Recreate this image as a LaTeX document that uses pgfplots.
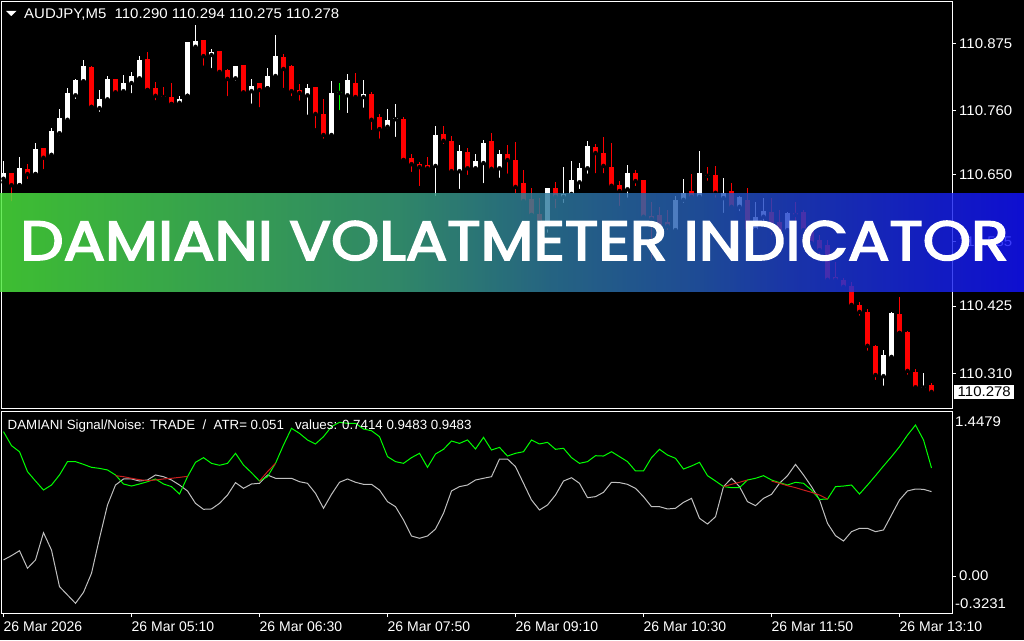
\documentclass[border=0pt]{standalone}
\usepackage{fontspec}
\setmainfont{Liberation Sans}
\newfontfamily\bannerfont{Poppins}[FakeBold=3]
\newfontfamily\numfont{Liberation Sans}[FakeStretch=1.07]
\usepackage{pgfplots}
\usepackage{pgfplotstable}
\pgfplotsset{compat=1.18}
\definecolor{mtred}{RGB}{255,0,0}
\definecolor{mtgreen}{RGB}{0,255,0}
\definecolor{mtsilver}{RGB}{192,192,192}
\definecolor{sigred}{RGB}{200,30,30}
\newcommand\tickfont{\fontsize{14}{16}\selectfont}
\newcommand\numtickfont{\numfont\fontsize{14}{16}\selectfont}
\pgfdeclarehorizontalshading{banner}{100bp}{
 rgb(0bp)=(0.298,0.910,0.239);
 rgb(25bp)=(0.298,0.910,0.239);
 rgb(44.5bp)=(0.23,0.645,0.50);
 rgb(51.9bp)=(0.18,0.478,0.622);
 rgb(59.2bp)=(0.144,0.358,0.716);
 rgb(64.1bp)=(0.119,0.240,0.813);
 rgb(75bp)=(0.071,0.071,1);
 rgb(100bp)=(0.071,0.071,1)}

\pgfplotstableread{
x o h l c
0 110.643 110.673 110.637 110.653
2 110.632 110.680 110.632 110.661
4 110.651 110.704 110.651 110.694
6 110.684 110.730 110.680 110.725
7 110.721 110.762 110.714 110.747
8 110.744 110.798 110.738 110.790
9 110.786 110.814 110.776 110.812
10 110.810 110.846 110.809 110.836
12 110.764 110.795 110.754 110.779
13 110.779 110.819 110.773 110.814
15 110.793 110.821 110.788 110.807
16 110.807 110.826 110.786 110.819
17 110.815 110.853 110.812 110.846
22 110.773 110.785 110.769 110.779
23 110.785 110.877 110.785 110.877
24 110.869 110.906 110.862 110.879
26 110.855 110.865 110.829 110.860
29 110.815 110.836 110.807 110.836
31 110.793 110.814 110.768 110.802
33 110.798 110.833 110.798 110.819
34 110.819 110.889 110.812 110.853
38 110.786 110.805 110.749 110.798
41 110.718 110.810 110.716 110.790
43 110.786 110.822 110.752 110.812
45 110.783 110.812 110.761 110.788
48 110.732 110.762 110.725 110.744
49 110.745 110.771 110.711 110.747
54 110.665 110.733 110.610 110.718
57 110.656 110.701 110.622 110.690
59 110.661 110.685 110.660 110.673
60 110.670 110.709 110.632 110.704
62 110.661 110.692 110.641 110.685
68 110.560 110.627 110.547 110.627
70 110.612 110.663 110.598 110.617
71 110.617 110.673 110.610 110.641
72 110.637 110.670 110.622 110.661
73 110.661 110.708 110.648 110.699
78 110.625 110.667 110.607 110.653
84 110.555 110.613 110.552 110.607
85 110.607 110.643 110.598 110.619
87 110.612 110.690 110.608 110.653
90 110.610 110.644 110.581 110.619
92 110.595 110.613 110.584 110.612
94 110.555 110.603 110.555 110.578
95 110.578 110.610 110.564 110.588
98 110.555 110.586 110.552 110.584
110 110.305 110.350 110.285 110.341
111 110.338 110.415 110.336 110.413
115 110.285 110.310 110.285 110.286
}\bull

\pgfplotstableread{
x o h l c
1 110.653 110.653 110.601 110.632
3 110.660 110.668 110.639 110.651
5 110.696 110.696 110.656 110.679
11 110.834 110.836 110.766 110.766
14 110.814 110.814 110.785 110.791
18 110.848 110.860 110.795 110.795
19 110.798 110.809 110.774 110.785
20 110.785 110.800 110.779 110.783
21 110.783 110.807 110.771 110.771
25 110.881 110.881 110.833 110.853
27 110.862 110.862 110.819 110.826
28 110.829 110.831 110.781 110.814
30 110.838 110.838 110.790 110.791
32 110.807 110.807 110.762 110.795
35 110.851 110.857 110.795 110.831
36 110.836 110.838 110.781 110.793
37 110.795 110.805 110.773 110.790
39 110.800 110.800 110.726 110.754
40 110.754 110.779 110.708 110.718
44 110.807 110.824 110.776 110.783
46 110.788 110.791 110.723 110.744
47 110.749 110.754 110.708 110.728
50 110.745 110.749 110.675 110.675
51 110.679 110.685 110.651 110.668
52 110.668 110.672 110.627 110.663
53 110.667 110.680 110.660 110.661
55 110.720 110.733 110.699 110.708
56 110.708 110.716 110.651 110.656
58 110.689 110.696 110.646 110.661
61 110.708 110.721 110.653 110.660
63 110.685 110.701 110.648 110.675
64 110.675 110.706 110.615 110.629
65 110.636 110.658 110.601 110.605
66 110.608 110.627 110.581 110.581
67 110.583 110.610 110.543 110.569
69 110.627 110.637 110.589 110.612
74 110.697 110.702 110.649 110.687
75 110.687 110.714 110.649 110.665
76 110.663 110.704 110.624 110.631
77 110.632 110.639 110.593 110.622
79 110.653 110.658 110.627 110.639
80 110.641 110.641 110.572 110.578
81 110.579 110.603 110.500 110.574
82 110.581 110.595 110.538 110.545
83 110.569 110.589 110.552 110.562
86 110.622 110.651 110.607 110.612
88 110.649 110.663 110.636 110.648
89 110.649 110.665 110.607 110.619
91 110.622 110.636 110.593 110.595
93 110.607 110.627 110.552 110.555
96 110.586 110.610 110.543 110.555
97 110.569 110.589 110.530 110.547
99 110.584 110.603 110.564 110.581
100 110.586 110.589 110.547 110.555
101 110.555 110.560 110.530 110.533
102 110.538 110.547 110.507 110.521
103 110.530 110.538 110.466 110.470
104 110.475 110.500 110.466 110.470
105 110.470 110.473 110.456 110.458
106 110.459 110.466 110.423 110.427
107 110.427 110.432 110.405 110.415
108 110.415 110.420 110.345 110.357
109 110.357 110.358 110.295 110.307
112 110.411 110.441 110.379 110.379
113 110.381 110.382 110.304 110.314
114 110.312 110.317 110.283 110.286
116 110.290 110.294 110.275 110.278
}\bear

\pgfplotstableread{
x o h l c
42 110.790 110.807 110.757 110.790
}\doji

\pgfplotstableread{
x g w
0 1.267 0.142
1 1.144 0.180
2 1.091 0.223
3 0.916 0.069
4 0.834 0.142
5 0.755 0.381
6 0.799 0.229
7 0.887 -0.092
8 1.004 -0.165
9 1.004 -0.238
10 0.980 -0.142
11 0.954 0.025
12 0.945 0.332
13 0.931 0.624
14 0.887 0.799
15 0.808 0.852
16 0.790 0.852
17 0.808 0.834
18 0.828 0.843
19 0.852 0.887
20 0.808 0.872
21 0.785 0.843
22 0.720 0.799
23 0.872 0.747
24 0.998 0.638
25 1.039 0.586
26 0.989 0.589
27 0.972 0.638
28 0.989 0.711
29 1.077 0.820
30 0.974 0.770
31 0.907 0.808
32 0.834 0.814
33 0.872 0.887
34 0.989 0.858
35 1.150 0.858
36 1.296 0.858
37 1.252 0.828
38 1.194 0.814
39 1.159 0.726
40 1.223 0.595
41 1.311 0.717
42 1.349 0.823
43 1.340 0.852
44 1.340 0.823
45 1.290 0.805
46 1.275 0.805
47 1.223 0.755
48 1.048 0.653
49 1.004 0.609
50 0.989 0.492
51 1.039 0.352
52 1.077 0.332
53 0.954 0.352
54 1.071 0.413
55 1.112 0.551
56 1.185 0.747
57 1.164 0.785
58 1.194 0.799
59 1.115 0.843
60 1.217 0.858
61 1.106 0.872
62 1.129 1.027
63 1.053 1.027
64 1.077 0.960
65 1.091 0.814
66 1.194 0.668
67 1.159 0.580
68 1.173 0.624
69 1.112 0.711
70 1.121 0.834
71 1.039 0.863
72 0.989 0.814
73 1.004 0.688
74 1.056 0.697
75 1.053 0.735
76 1.091 0.823
77 1.048 0.820
78 1.004 0.805
79 0.922 0.770
80 0.922 0.697
81 1.039 0.609
82 1.112 0.609
83 1.062 0.589
84 1.033 0.595
85 0.939 0.647
86 0.966 0.682
87 0.998 0.507
88 0.881 0.457
89 0.834 0.521
90 0.785 0.785
91 0.776 0.858
92 0.776 0.785
93 0.843 0.653
94 0.858 0.618
95 0.881 0.682
96 0.843 0.717
97 0.820 0.814
98 0.799 0.881
99 0.823 0.980
100 0.814 0.887
101 0.755 0.785
102 0.673 0.668
103 0.676 0.463
104 0.785 0.355
105 0.790 0.308
106 0.799 0.390
107 0.720 0.419
108 0.799 0.419
109 0.881 0.390
110 0.966 0.405
111 1.048 0.536
112 1.135 0.668
113 1.237 0.747
114 1.325 0.764
115 1.194 0.761
116 0.9483 0.7414
}\ind

\pgfplotstableread{
x r
14 0.881
15 0.872
16 0.858
17 0.846
18 0.837
19 0.843
20 0.852
21 0.858
22 0.866
23 0.875
nan nan
32 0.834
33 0.916
34 0.989
nan nan
90 0.785
91 0.805
92 0.823
93 0.843
nan nan
96 0.834
97 0.814
98 0.793
99 0.776
100 0.755
101 0.735
102 0.711
103 0.676
}\sig

\begin{document}
\begin{tikzpicture}
\useasboundingbox (0,0) rectangle (1024pt,640pt);
\fill[black] (0,0) rectangle (1024pt,640pt);

\begin{axis}[
  at={(2pt,231pt)}, anchor=south west,
  width=950pt, height=407pt, scale only axis,
  xmin=-0.1875, xmax=118.5625,
  ymin=110.2488, ymax=110.9457,
  axis line style={white, line width=1pt},
  xtick=\empty,
  ytick={110.310,110.425,110.535,110.650,110.760,110.875},
  yticklabels={110.310,110.425,110.535,110.650,110.760,110.875},
  ytick pos=right, yticklabel pos=right,
  tick align=outside, major tick length=4pt,
  tick style={white, line width=1pt},
  yticklabel style={text=white, font=\numtickfont, inner sep=0pt, anchor=west, xshift=3pt},
]
% wicks
\addplot[only marks, mark=none, error bars/.cd, y dir=plus, y explicit, error mark=none,
  error bar style={draw=white, line width=1pt}]
  table[x=x, y=l, y error plus expr={\thisrow{h}-\thisrow{l}}] {\bull};
\addplot[only marks, mark=none, error bars/.cd, y dir=plus, y explicit, error mark=none,
  error bar style={draw=mtred, line width=1pt}]
  table[x=x, y=l, y error plus expr={\thisrow{h}-\thisrow{l}}] {\bear};
\addplot[only marks, mark=none, error bars/.cd, y dir=plus, y explicit, error mark=none,
  error bar style={draw=mtgreen, line width=1pt}]
  table[x=x, y=l, y error plus expr={\thisrow{h}-\thisrow{l}}] {\doji};
% bodies
\addplot[only marks, mark=none, error bars/.cd, y dir=plus, y explicit, error mark=none,
  error bar style={draw=white, line width=5pt}]
  table[x=x, y expr={min(\thisrow{o},\thisrow{c})}, y error plus expr={max(abs(\thisrow{c}-\thisrow{o}),0.0017)}] {\bull};
\addplot[only marks, mark=none, error bars/.cd, y dir=plus, y explicit, error mark=none,
  error bar style={draw=mtred, line width=5pt}]
  table[x=x, y expr={min(\thisrow{o},\thisrow{c})}, y error plus expr={max(abs(\thisrow{c}-\thisrow{o}),0.0017)}] {\bear};
\addplot[only marks, mark=none, error bars/.cd, y dir=plus, y explicit, error mark=none,
  error bar style={draw=mtgreen, line width=5pt}]
  table[x=x, y expr={min(\thisrow{o},\thisrow{c})}, y error plus expr={max(abs(\thisrow{c}-\thisrow{o}),0.0017)}] {\doji};
\coordinate (lastp) at (axis cs:118.5625,110.278);
\end{axis}
\node[anchor=west, fill=white, text=black, font=\numtickfont, inner xsep=3.5pt, inner ysep=2pt, xshift=2pt] at (lastp) {110.278};

\begin{axis}[
  at={(2pt,27pt)}, anchor=south west,
  width=950pt, height=202pt, scale only axis,
  xmin=-0.1875, xmax=118.5625, ymin=-0.3231, ymax=1.4479,
  axis line style={white, line width=1pt},
  xtick={0,16,32,48,64,80,96,112},
  xticklabels={26 Mar 2026, 26 Mar 05:10, 26 Mar 06:30, 26 Mar 07:50, 26 Mar 09:10, 26 Mar 10:30, 26 Mar 11:50, 26 Mar 13:10},
  xtick pos=bottom, xticklabel pos=bottom,
  ytick={0}, yticklabels={0.00},
  extra y ticks={1.4479,-0.3231},
  extra y tick labels={\raisebox{-15.5pt}[0pt][0pt]{1.4479},\raisebox{4.1pt}[0pt][0pt]{-0.3231}},
  extra y tick style={major tick length=0pt},
  ytick pos=right, yticklabel pos=right,
  tick align=outside, major tick length=4pt,
  tick style={white, line width=1pt},
  xticklabel style={text=white, font=\tickfont, anchor=north west, inner sep=0pt, yshift=-5pt},
  yticklabel style={text=white, font=\numtickfont, anchor=west, inner sep=0pt, xshift=3pt},
  unbounded coords=jump,
]
\addplot[mtsilver, line width=1pt, mark=none] table[x=x, y=w] {\ind};
\addplot[mtgreen, line width=1pt, mark=none] table[x=x, y=g] {\ind};
\addplot[sigred, line width=1pt, mark=none] table[x=x, y=r] {\sig};
\end{axis}

\shade[shading=banner, opacity=0.82] (0,348pt) rectangle (1024pt,446pt);
\node[anchor=base west, inner sep=0pt, text=white] at (20pt,380pt)
  {\resizebox{988pt}{39pt}{\bannerfont DAMIANI VOLATMETER INDICATOR}};

\fill[white] (6pt,629pt) -- (16.5pt,629pt) -- (11.25pt,624pt) -- cycle;
\node[anchor=base west, inner sep=0pt, text=white, font=\numtickfont] at (24pt,621pt)
  {AUDJPY,M5\ \ 110.290 110.294 110.275 110.278};
\node[anchor=base west, inner sep=0pt, text=white, font=\fontsize{13.3}{16}\selectfont] at (7.5pt,211pt)
  {DAMIANI Signal/Noise: TRADE\ \ /\ \ ATR= 0.051\ \ \ values: 0.7414 0.9483 0.9483};
\end{tikzpicture}
\end{document}
